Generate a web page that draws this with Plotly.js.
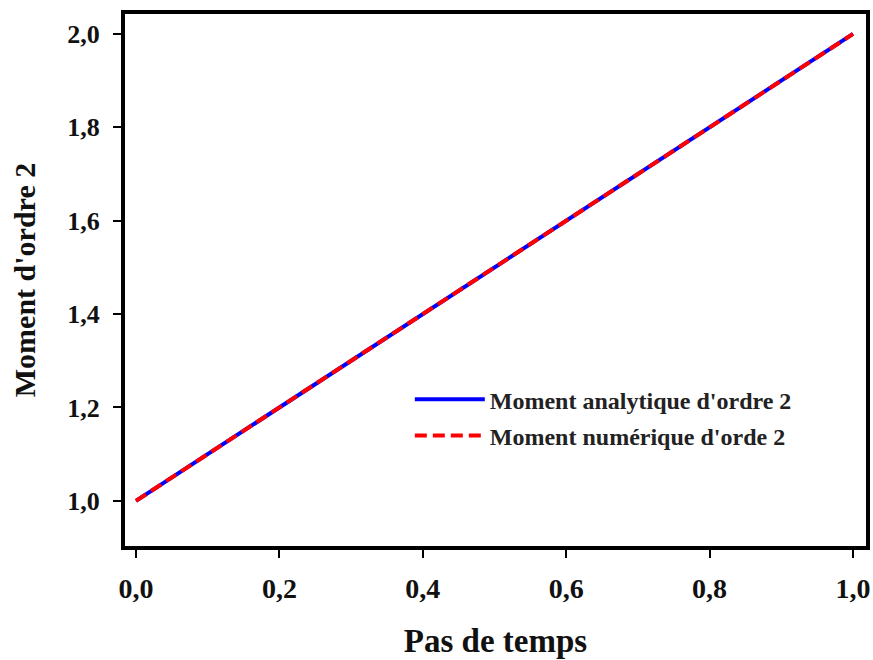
<!DOCTYPE html>
<html>
<head>
<meta charset="utf-8">
<script src="https://cdn.plot.ly/plotly-3.0.1.min.js"></script>
<style>html,body{margin:0;padding:0;background:#fff;}#chart{width:873px;height:660px;}</style>
</head>
<body>
<div id="chart"></div>
<script>
const timeSteps = [0.0, 0.1, 0.2, 0.3, 0.4, 0.5, 0.6, 0.7, 0.8, 0.9, 1.0];
const analyticMoment = [1.0, 1.1, 1.2, 1.3, 1.4, 1.5, 1.6, 1.7, 1.8, 1.9, 2.0];
const numericMoment = [1.0, 1.1, 1.2, 1.3, 1.4, 1.5, 1.6, 1.7, 1.8, 1.9, 2.0];
const xTickVals = [0.0, 0.2, 0.4, 0.6, 0.8, 1.0];
const xTickText = ['0,0', '0,2', '0,4', '0,6', '0,8', '1,0'];
const yTickVals = [1.0, 1.2, 1.4, 1.6, 1.8, 2.0];
const yTickText = ['1,0', '1,2', '1,4', '1,6', '1,8', '2,0'];

const font = 'Liberation Serif, Times New Roman, serif';

const traces = [
  {x: timeSteps, y: analyticMoment, mode: 'lines', name: "<b>Moment analytique d'ordre 2</b>",
   legendgroup: 'a', line: {color: '#0000ff', width: 4}},
  {x: timeSteps, y: numericMoment, mode: 'lines', name: "<b>Moment numérique d'orde 2</b>",
   legendgroup: 'b', line: {color: '#ff0000', width: 4, dash: '12px,6px'}}
];

const layout = {
  width: 873, height: 660,
  margin: {l: 123, r: 5, t: 12, b: 112},
  paper_bgcolor: '#fff', plot_bgcolor: '#fff',
  showlegend: true,
  legend: {x: 0.385, y: 0.243, xanchor: 'left', yanchor: 'middle', bgcolor: 'rgba(0,0,0,0)',
           font: {family: font, size: 24, color: '#222'}, tracegroupgap: 2, itemwidth: 70},
  shapes: [
    {type: 'rect', xref: 'paper', yref: 'paper', x0: 0, x1: 1, y0: 0, y1: 1,
     line: {color: '#000', width: 4}, fillcolor: 'rgba(0,0,0,0)', layer: 'above'}
  ],
  xaxis: {
    range: [-0.0181, 1.0209], tickvals: xTickVals, ticktext: xTickText,
    showgrid: false, zeroline: false, showline: false,
    ticks: 'outside', ticklen: 9, tickwidth: 2, tickcolor: '#000', ticklabelstandoff: 6,
    tickfont: {family: font, size: 28, color: '#111', weight: 'bold'},
    title: {text: '<b>Pas de temps</b>', font: {family: font, size: 33, color: '#111'}, standoff: 26}
  },
  yaxis: {
    range: [0.899, 2.047], tickvals: yTickVals, ticktext: yTickText,
    showgrid: false, zeroline: false, showline: false,
    ticks: 'outside', ticklen: 9, tickwidth: 2, tickcolor: '#000', ticklabelstandoff: 8,
    tickfont: {family: font, size: 26, color: '#111', weight: 'bold'},
    title: {text: "<b>Moment d'ordre 2</b>", font: {family: font, size: 30, color: '#111'}, standoff: 22}
  }
};

Plotly.newPlot('chart', traces, layout, {displayModeBar: false, staticPlot: true});
</script>
</body>
</html>
